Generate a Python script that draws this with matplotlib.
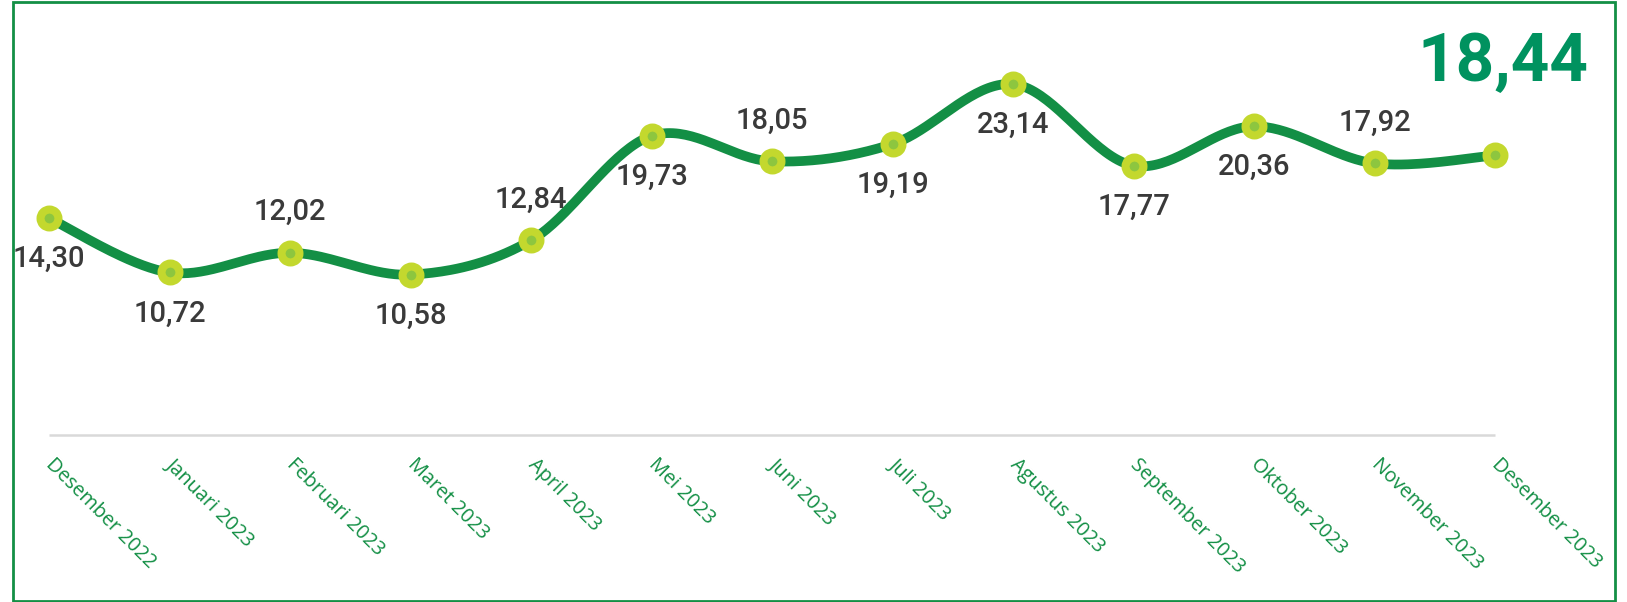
import numpy as np
import matplotlib
matplotlib.use("Agg")
import matplotlib.pyplot as plt
import matplotlib.transforms as mtransforms
from matplotlib.patches import Rectangle

months = ["Desember 2022", "Januari 2023", "Februari 2023", "Maret 2023",
          "April 2023", "Mei 2023", "Juni 2023", "Juli 2023", "Agustus 2023",
          "September 2023", "Oktober 2023", "November 2023", "Desember 2023"]
values = [14.30, 10.72, 12.02, 10.58, 12.84, 19.73, 18.05, 19.19, 23.14,
          17.77, 20.36, 17.92, 18.44]
# where each value label sits relative to its point
label_side = ["below", "below", "above", "below", "above", "below", "above",
              "below", "below", "below", "below", "above", None]
latest = "18,44"

LINE = "#138f45"
RING = "#c3d82e"
DOT = "#8dc63f"
BIG = "#00925f"


def smooth(x, y, n=40):
    # Excel-like smoothed line: cubic bezier with catmull-rom control points
    p = np.column_stack([x, y]).astype(float)
    ext = np.vstack([p[0], p, p[-1]])
    t = np.linspace(0, 1, n)[:, None]
    out = []
    for i in range(len(p) - 1):
        p0, p1, p2, p3 = ext[i], ext[i + 1], ext[i + 2], ext[i + 3]
        c1 = p1 + (p2 - p0) / 6
        c2 = p2 - (p3 - p1) / 6
        seg = ((1 - t) ** 3) * p1 + 3 * ((1 - t) ** 2) * t * c1 \
            + 3 * (1 - t) * t ** 2 * c2 + t ** 3 * p2
        out.append(seg if i == 0 else seg[1:])
    out = np.vstack(out)
    return out[:, 0], out[:, 1]


W, H = 1627, 602
fig = plt.figure(figsize=(W / 100, H / 100), dpi=100)
ax = fig.add_axes([49 / W, (H - 435) / H, (1495 - 49) / W, (435 - 56) / H])

x = np.arange(len(values))
sx, sy = smooth(x, values)
ax.plot(sx, sy, color=LINE, lw=7, solid_capstyle="round", zorder=2,
        clip_on=False)
ax.plot(x, values, ls="none", marker="o", ms=12.9, mfc=DOT, mec=RING,
        mew=5.8, zorder=3, clip_on=False)

for xi, v, side in zip(x, values, label_side):
    if side is None:
        continue
    dy = 29.5 if side == "above" else -29.5
    ax.annotate(f"{v:.2f}".replace(".", ","), (xi, v), xytext=(0, dy),
                textcoords="offset points", ha="center", va="center",
                fontsize=21, family="Roboto", fontweight="medium",
                color="#3a3a3a")

ax.set_xlim(0, 12)
ax.set_ylim(0, 25)
ax.set_yticks([])
for s in ["top", "left", "right"]:
    ax.spines[s].set_visible(False)
ax.spines["bottom"].set_color("#d9d9d9")
ax.spines["bottom"].set_linewidth(1.8)
ax.spines["bottom"].set_capstyle("butt")
ax.set_xticks(x)
ax.set_xticklabels(months, rotation=-45, ha="left", va="top",
                   rotation_mode="anchor", fontsize=14.3, family="Open Sans",
                   color=LINE)
ax.tick_params(axis="x", length=0, pad=14)
shift = mtransforms.ScaledTranslation(7 / 100, 0, fig.dpi_scale_trans)
for lab in ax.get_xticklabels():
    lab.set_transform(lab.get_transform() + shift)

fig.text(1588 / W, (H - 81) / H, latest, ha="right", va="baseline",
         fontsize=48.5, fontweight="bold", family="Roboto", color=BIG)

fig.patches.append(Rectangle((13 / W, 1 / H), (1615 - 13) / W, (600 - 1) / H,
                             transform=fig.transFigure, fill=False,
                             edgecolor=LINE, lw=2))

fig.savefig("out.png", dpi=100)
